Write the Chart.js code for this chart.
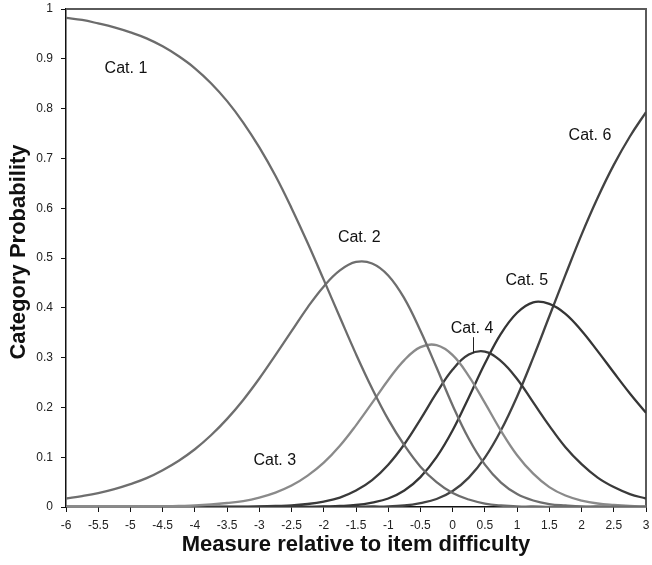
<!DOCTYPE html>
<html>
<head>
<meta charset="utf-8">
<script src="https://cdn.jsdelivr.net/npm/chart.js@4.4.1/dist/chart.umd.min.js"></script>
<style>
  html, body { margin: 0; padding: 0; background: #ffffff; }
  #wrap { width: 652px; height: 565px; position: relative; }
</style>
</head>
<body>
<div id="wrap"><canvas id="c" width="652" height="565"></canvas></div>
<script>
// Measure (x) values, step 0.25 from -6 to 3
const measures = [-6, -5.75, -5.5, -5.25, -5, -4.75, -4.5, -4.25, -4, -3.75, -3.5, -3.25, -3, -2.75, -2.5, -2.25, -2, -1.75, -1.5, -1.25, -1, -0.75, -0.5, -0.25, 0, 0.25, 0.5, 0.75, 1, 1.25, 1.5, 1.75, 2, 2.25, 2.5, 2.75, 3];

const cat1 = [0.982, 0.978, 0.971, 0.963, 0.953, 0.941, 0.925, 0.905, 0.881, 0.851, 0.815, 0.772, 0.722, 0.665, 0.600, 0.530, 0.456, 0.381, 0.307, 0.238, 0.176, 0.124, 0.081, 0.050, 0.028, 0.015, 0.007, 0.003, 0.001, 0.001, 0.000, 0.000, 0.000, 0.000, 0.000, 0.000, 0.000];
const cat2 = [0.017, 0.022, 0.028, 0.036, 0.046, 0.058, 0.074, 0.093, 0.116, 0.144, 0.177, 0.215, 0.258, 0.305, 0.353, 0.401, 0.443, 0.475, 0.492, 0.489, 0.465, 0.419, 0.354, 0.280, 0.204, 0.137, 0.085, 0.049, 0.026, 0.013, 0.006, 0.003, 0.001, 0.001, 0.000, 0.000, 0.000];
const cat3 = [0.000, 0.000, 0.000, 0.000, 0.000, 0.001, 0.001, 0.002, 0.003, 0.005, 0.008, 0.012, 0.019, 0.029, 0.043, 0.063, 0.089, 0.123, 0.164, 0.209, 0.255, 0.295, 0.321, 0.325, 0.305, 0.263, 0.209, 0.153, 0.104, 0.067, 0.040, 0.023, 0.013, 0.007, 0.004, 0.002, 0.001];
const cat4 = [0.000, 0.000, 0.000, 0.000, 0.000, 0.000, 0.000, 0.000, 0.000, 0.000, 0.000, 0.000, 0.001, 0.002, 0.003, 0.006, 0.011, 0.019, 0.033, 0.054, 0.085, 0.126, 0.176, 0.229, 0.276, 0.306, 0.312, 0.293, 0.257, 0.210, 0.163, 0.120, 0.086, 0.059, 0.040, 0.026, 0.017];
const cat5 = [0.000, 0.000, 0.000, 0.000, 0.000, 0.000, 0.000, 0.000, 0.000, 0.000, 0.000, 0.000, 0.000, 0.000, 0.000, 0.000, 0.001, 0.002, 0.004, 0.009, 0.017, 0.033, 0.060, 0.100, 0.154, 0.220, 0.288, 0.348, 0.390, 0.411, 0.408, 0.388, 0.354, 0.313, 0.270, 0.228, 0.189];
const cat6 = [0.000, 0.000, 0.000, 0.000, 0.000, 0.000, 0.000, 0.000, 0.000, 0.000, 0.000, 0.000, 0.000, 0.000, 0.000, 0.000, 0.000, 0.000, 0.000, 0.001, 0.001, 0.003, 0.008, 0.016, 0.032, 0.059, 0.099, 0.154, 0.222, 0.300, 0.383, 0.466, 0.547, 0.621, 0.687, 0.744, 0.793];

const seriesNames = ['Cat. 1', 'Cat. 2', 'Cat. 3', 'Cat. 4', 'Cat. 5', 'Cat. 6'];
const seriesValues = [cat1, cat2, cat3, cat4, cat5, cat6];
const seriesColors = ['#6c6c6c', '#6e6e6e', '#8a8a8a', '#3a3a3a', '#353535', '#424242'];

// Curve label anchors (data coordinates)
const labelX = [-5.07, -1.45, -2.76, 0.30, 1.15, 2.13];
const labelY = [0.880, 0.540, 0.093, 0.359, 0.454, 0.746];

const xTitle = 'Measure relative to item difficulty';
const yTitle = 'Category Probability';

const FONT = '"Liberation Sans", Arial, Helvetica, sans-serif';

const datasets = seriesValues.map((vals, i) => ({
  label: seriesNames[i],
  data: measures.map((m, j) => ({ x: m, y: vals[j] })),
  borderColor: seriesColors[i],
  backgroundColor: seriesColors[i],
  borderWidth: 2.3,
  pointRadius: 0,
  tension: 0.4,
  fill: false
}));

const decor = {
  id: 'decor',
  beforeDatasetsDraw(chart) {
    const { ctx, chartArea: a } = chart;
    ctx.save();
    ctx.strokeStyle = '#5a5a5a';
    ctx.lineWidth = 2;
    ctx.beginPath();
    ctx.moveTo(a.left, a.top);
    ctx.lineTo(a.right, a.top);
    ctx.lineTo(a.right, a.bottom);
    ctx.stroke();
    ctx.restore();
  },
  afterDraw(chart) {
    const { ctx, scales: { x, y }, chartArea: a } = chart;
    ctx.save();
    ctx.fillStyle = '#111';
    ctx.textAlign = 'center';
    ctx.textBaseline = 'middle';
    ctx.font = '16px ' + FONT;
    seriesNames.forEach((n, i) => {
      ctx.fillText(n, x.getPixelForValue(labelX[i]), y.getPixelForValue(labelY[i]));
    });
    // leader line for Cat. 4
    ctx.strokeStyle = '#222';
    ctx.lineWidth = 1;
    ctx.beginPath();
    const lx = Math.round(x.getPixelForValue(0.32)) + 0.5;
    ctx.moveTo(lx, y.getPixelForValue(0.341));
    ctx.lineTo(lx, y.getPixelForValue(0.309));
    ctx.stroke();
    // axis titles
    ctx.font = 'bold 22px ' + FONT;
    ctx.fillText(xTitle, (a.left + a.right) / 2, 545);
    ctx.translate(19, (a.top + a.bottom) / 2 - 6);
    ctx.rotate(-Math.PI / 2);
    ctx.fillText(yTitle, 0, 0);
    ctx.restore();
  }
};

new Chart(document.getElementById('c'), {
  type: 'line',
  data: { datasets },
  plugins: [decor],
  options: {
    responsive: false,
    animation: false,
    layout: { padding: { top: 9, right: 6, left: 0, bottom: 0 } },
    plugins: { legend: { display: false }, tooltip: { enabled: false } },
    scales: {
      x: {
        type: 'linear',
        min: -6, max: 3,
        afterFit(s) { s.height = 58; s.paddingLeft = 0; s.paddingRight = 0; },
        ticks: { stepSize: 0.5, color: '#222', font: { size: 12, family: FONT }, padding: 6, maxRotation: 0, autoSkip: false,
          callback: v => String(Math.round(v * 10) / 10) },
        grid: { drawOnChartArea: false, drawTicks: true, tickLength: 5, color: '#111' },
        border: { color: '#111', width: 1.5 }
      },
      y: {
        type: 'linear',
        min: 0, max: 1,
        afterFit(s) { s.width = 66; s.paddingTop = 0; s.paddingBottom = 0; },
        ticks: { stepSize: 0.1, color: '#222', font: { size: 12, family: FONT }, padding: 8,
          callback: v => String(Math.round(v * 10) / 10) },
        grid: { drawOnChartArea: false, drawTicks: true, tickLength: 5, color: '#111' },
        border: { color: '#111', width: 1.5 }
      }
    }
  }
});
</script>
</body>
</html>
